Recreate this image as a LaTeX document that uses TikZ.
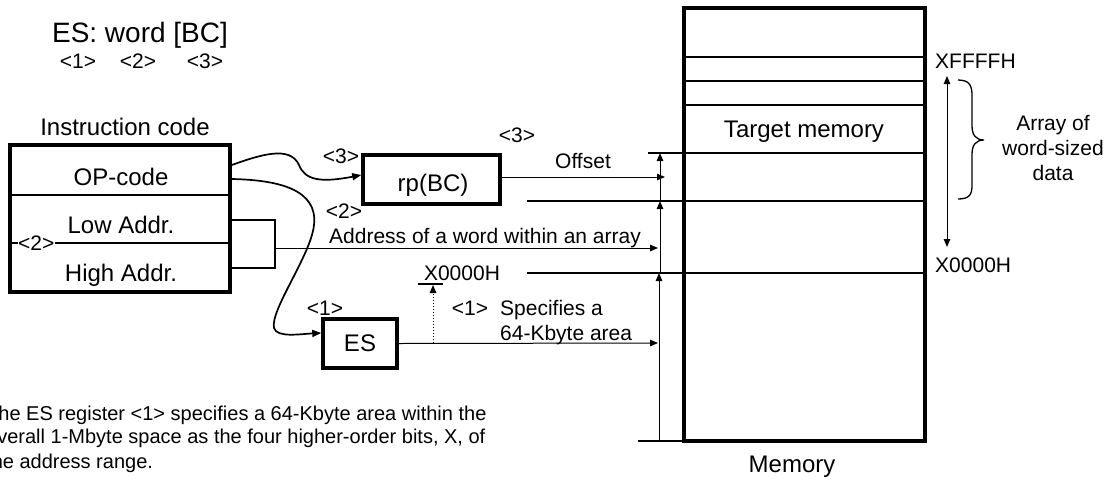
\documentclass[tikz,border=0pt]{standalone}
\usepackage{fontspec}
\setmainfont{Liberation Sans}
\usetikzlibrary{arrows.meta}

\tikzset{
  frame/.style={draw, line width=3.5pt, inner sep=0pt},
  sep/.style={line width=1.7pt},
  arr/.style={line width=1pt, -{Triangle[length=8pt,width=6.5pt]}},
  twoarr/.style={line width=1pt, {Triangle[length=8pt,width=6.5pt]}-{Triangle[length=8pt,width=6.5pt]}},
  curve/.style={line width=1.7pt, -{Triangle[length=9pt,width=7pt]}},
  ttl/.style={font=\fontsize{28}{32}\selectfont, inner sep=0pt},
  txt/.style={font=\fontsize{24}{28}\selectfont, inner sep=0pt},
  lbl/.style={font=\fontsize{21}{25}\selectfont, inner sep=0pt},
  note/.style={font=\fontsize{20}{24}\selectfont, inner sep=0pt, anchor=base west},
}

\begin{document}
\begin{tikzpicture}[x=1pt,y=-1pt]
  %%%%% START %%%%%
  \useasboundingbox (0,0) rectangle (1115,480);
  \clip (0,0) rectangle (1115,480);

  % instruction format
  \node[ttl, anchor=base] (title) at (140,42) {ES: word [BC]};
  \node[lbl, anchor=base] (t1) at (78,68) {<1>};
  \node[lbl, anchor=base] (t2) at (138,68) {<2>};
  \node[lbl, anchor=base] (t3) at (205,68) {<3>};

  % instruction code
  \node[txt, anchor=base] (icode) at (125,135) {Instruction code};
  \draw[sep] (10,195) -- (230,195);
  \draw[sep] (10,243) -- (230,243);
  \node[frame, minimum width=220pt, minimum height=147pt] (instr) at (120,218.5) {};
  \node[txt, anchor=base] (op) at (121,185) {OP-code};
  \node[txt, anchor=base] (lo) at (121,233) {Low Addr.};
  \node[txt, anchor=base] (hi) at (121,281) {High Addr.};
  \node[lbl, fill=white, inner sep=0.5pt, anchor=west] (lsel) at (17.5,243) {<2>};

  % low/high address join
  \coordinate (brk) at (275,248);
  \draw[line width=1.5pt] (230,220) -- (275,220) -- (275,268) -- (230,268);

  % registers
  \node[frame, minimum width=137pt, minimum height=49pt] (rp) at (431.5,179.5) {};
  \node[txt] (rpl) at (433,185) {rp(BC)};
  \node[frame, minimum width=74pt, minimum height=49pt] (es) at (360,343.5) {};
  \node[txt] (esl) at (360,343) {ES};

  \node[lbl, anchor=base] (rp3) at (341,163) {<3>};
  \node[lbl, anchor=base] (off3) at (517,142) {<3>};
  \node[lbl, anchor=base] (off) at (583,168) {Offset};
  \node[lbl, anchor=base] (rp2) at (344,218) {<2>};
  \node[lbl, anchor=base] (addr) at (485,243) {Address of a word within an array};
  \node[lbl, anchor=base] (es1) at (325,315) {<1>};
  \node[lbl, anchor=base] (spec1) at (470,315) {<1>};
  \node[lbl, anchor=base west] (spec) at (500,315) {Specifies a};
  \node[lbl, anchor=base west] (spec2) at (500,340) {64-Kbyte area};
  \node[lbl, anchor=base] (low0) at (462,280) {X0000H};

  % curves from OP-code
  \draw[curve] (instr.east |- 0,165) .. controls (260,155) and (290,145) .. (299,165)
     .. controls (305,180) and (320,183) .. (rp.west |- 0,175);
  \draw[curve] (instr.east |- 0,179) .. controls (280,180) and (318,190) .. (314,225)
     .. controls (311,255) and (270,310) .. (274,328)
     .. controls (277,338) and (300,334) .. (es.west |- 0,333);

  % memory
  \node[frame, minimum width=241pt, minimum height=433pt] (mem) at (804.5,224.5) {};
  \foreach \y in {57,81,105,153,201,273}
    \draw[sep] (684,\y) -- (925,\y);
  \draw[sep] (648,153) -- (684,153);
  \draw[sep] (527,201) -- (684,201);
  \draw[sep] (527,273) -- (684,273);
  \draw[sep] (638,441) -- (684,441);
  \node[txt, anchor=base] (tgt) at (804,137) {Target memory};
  \node[txt, anchor=base] (meml) at (792,472) {Memory};

  % address arrows
  \coordinate (offtip) at (665,177);
  \coordinate (addrtip) at (658,248);
  \coordinate (estip) at (658,343);
  \draw[arr] (offtip -| rp.east) -- (offtip);
  \draw[arr] (brk) -- (addrtip);
  \draw[arr] (es.east) -- (estip);
  \draw[arr] (660,201) -- (660,153);
  \draw[arr] (660,273) -- (660,201);
  \draw[arr] (659,441) -- (659,273);

  % base of the 64-Kbyte area
  \coordinate (dot) at (433,343);
  \draw[line width=1.2pt] (418,284) -- (443,284);
  \draw[line width=1pt, dotted, -{Triangle[length=8pt,width=6.5pt]}] (dot) -- (433,285);

  % word-sized array
  \node[lbl, anchor=base west] (hiaddr) at (935,68) {XFFFFH};
  \node[lbl, anchor=base west] (loaddr) at (935,272) {X0000H};
  \draw[twoarr] (947,76) -- (947,247);
  \draw[line width=1.3pt] (958,80) .. controls (970,80) and (972,86) .. (972,96) -- (972,126)
     .. controls (972,135) and (976,140) .. (984,140)
     .. controls (976,140) and (972,145) .. (972,154) -- (972,185)
     .. controls (972,194) and (970,199) .. (958,199);
  \node[lbl, anchor=base] (ar1) at (1053,130) {Array of};
  \node[lbl, anchor=base] (ar2) at (1053,155) {word-sized};
  \node[lbl, anchor=base] (ar3) at (1053,180) {data};

  % note
  \node[note] (n1) at (-14,420) {The ES register <1> specifies a 64-Kbyte area within the};
  \node[note] (n2) at (-14,443) {overall 1-Mbyte space as the four higher-order bits, X, of};
  \node[note] (n3) at (-14,468) {the address range.};
  %%%%% END %%%%%
\end{tikzpicture}
\end{document}
